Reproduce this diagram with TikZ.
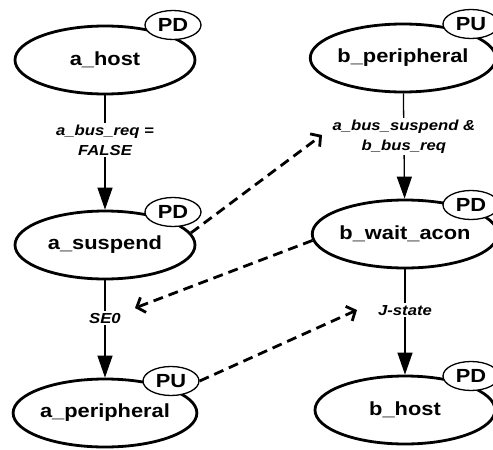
\documentclass[tikz,border=0pt]{standalone}
\usepackage{fontspec}
\setmainfont{Liberation Sans}[FakeStretch=1.15]
\usetikzlibrary{shapes.geometric,arrows.meta}
\begin{document}
\begin{tikzpicture}[x=1pt,y=-1pt,
  state/.style={ellipse,draw,line width=2.8pt,minimum width=180pt,minimum height=68pt,inner sep=0pt,font=\bfseries\fontsize{19}{21}\selectfont},
  tag/.style={ellipse,draw,fill=white,line width=1.3pt,minimum width=56pt,minimum height=29pt,inner sep=0pt,font=\bfseries\fontsize{19}{21}\selectfont},
  trans/.style={line width=1.3pt,-{Triangle[length=22pt,width=15pt]}},
  lbl/.style={fill=white,align=center,inner sep=2pt,font=\bfseries\itshape\fontsize{14.5}{20}\selectfont},
  dsh/.style={line width=2.8pt,dash pattern=on 10pt off 6pt,-{Straight Barb[length=7pt,width=16pt]}}
]
\useasboundingbox (0,0) rectangle (493,450);
% states
\node[state] (ahost) at (105,60) {a\_host};
\node[state] (asus) at (105,245) {a\_suspend};
\node[state] (aper) at (105,413) {a\_peripheral};
\node[state] (bper) at (403,58) {b\_peripheral};
\node[state] (bwait) at (405,234) {b\_wait\_acon};
\node[state] (bhost) at (405,410) {b\_host};
% tags
\node[tag] (t1) at (173,25) {PD};
\node[tag] (t2) at (173,212) {PD};
\node[tag] (t3) at (171,381) {PU};
\node[tag] (t4) at (471,24) {PU};
\node[tag] (t5) at (471,205) {PD};
\node[tag] (t6) at (471,376) {PD};
% transitions
\draw[trans] (ahost) -- node[lbl,pos=0.39] {a\_bus\_req =\\FALSE} (asus);
\draw[trans] (bper) -- node[lbl,pos=0.41] {a\_bus\_suspend \&\\b\_bus\_req} (bwait);
\draw[trans] (asus) -- node[lbl,pos=0.39] {SE0} (aper);
\draw[trans] (bwait) -- node[lbl,pos=0.39] {J-state} (bhost);
% dashed
\coordinate (d1) at (322,135);
\coordinate (d2) at (135,308);
\coordinate (d3) at (357,310);
\draw[dsh] (asus.8) -- (d1);
\draw[dsh] (bwait.184) -- (d2);
\draw[dsh] (t3.east) -- (d3);
\end{tikzpicture}
\end{document}
